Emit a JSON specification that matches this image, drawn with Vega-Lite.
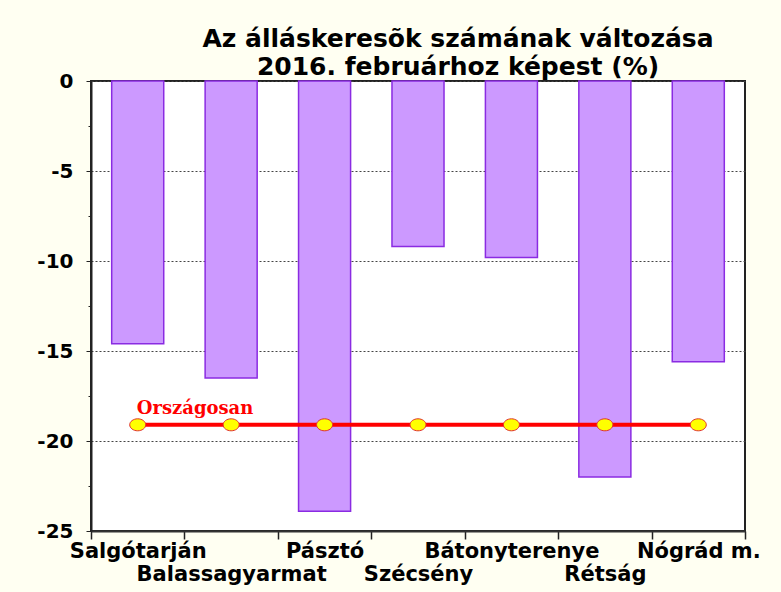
{
  "$schema": "https://vega.github.io/schema/vega-lite/v6.json",
  "width": 654,
  "height": 450,
  "autosize": {"type": "none"},
  "padding": {"left": 91, "top": 81, "right": 36, "bottom": 61},
  "background": "#FFFFF2",
  "config": {
    "view": {"fill": "white", "stroke": "#222222", "strokeWidth": 2},
    "font": "DejaVu Sans"
  },
  "title": {
    "text": ["Az álláskeresõk számának változása", "2016. februárhoz képest (%)"],
    "font": "DejaVu Sans",
    "fontSize": 25,
    "fontWeight": "bold",
    "color": "black",
    "anchor": "middle",
    "dx": 40,
    "offset": -9,
    "lineHeight": 28
  },
  "data": {
    "values": [
      {"cat": "Salgótarján", "value": -14.6, "avg": -19.1},
      {"cat": "Balassagyarmat", "value": -16.5, "avg": -19.1},
      {"cat": "Pásztó", "value": -23.9, "avg": -19.1},
      {"cat": "Szécsény", "value": -9.2, "avg": -19.1},
      {"cat": "Bátonyterenye", "value": -9.8, "avg": -19.1},
      {"cat": "Rétság", "value": -22.0, "avg": -19.1},
      {"cat": "Nógrád m.", "value": -15.6, "avg": -19.1}
    ]
  },
  "encoding": {
    "x": {
      "field": "cat",
      "type": "nominal",
      "sort": null,
      "scale": {"paddingInner": 0, "paddingOuter": 0},
      "axis": {
        "title": null,
        "labelAngle": 0,
        "labelFont": "DejaVu Sans",
        "labelFontSize": 21,
        "labelFontWeight": "bold",
        "labelColor": "black",
        "labelPadding": 1,
        "labelLineHeight": 23,
        "labelLimit": 400,
        "labelExpr": "indexof(['Balassagyarmat','Szécsény','Rétság'], datum.value) >= 0 ? ['', datum.value] : datum.value",
        "tickBand": "extent",
        "tickSize": 8,
        "tickColor": "#222222",
        "tickWidth": 1.5,
        "domainColor": "#333333",
        "domainWidth": 2,
        "grid": false,
        "labelOverlap": false
      }
    }
  },
  "layer": [
    {
      "mark": {"type": "bar", "fill": "#CC99FF", "stroke": "#8A2BE2", "strokeWidth": 1.5, "width": {"band": 0.557}},
      "encoding": {
        "y": {
          "field": "value",
          "type": "quantitative",
          "scale": {"domain": [-25, 0], "nice": false, "zero": false},
          "axis": {
            "title": null,
            "values": [-25, -22.5, -20, -17.5, -15, -12.5, -10, -7.5, -5, -2.5, 0],
            "labelExpr": "datum.value % 5 === 0 ? '' + datum.value : ''",
            "labelFont": "DejaVu Sans",
            "labelFontSize": 20,
            "labelFontWeight": "bold",
            "labelColor": "black",
            "labelPadding": 13,
            "tickSize": {"condition": {"test": "datum.value % 5 !== 0", "value": 3}, "value": 5},
            "tickColor": "#222222",
            "domainColor": "#222222",
            "domainWidth": 2,
            "grid": true,
            "gridDash": [2, 2],
            "gridColor": "#444444",
            "gridWidth": 1,
            "gridOpacity": {"condition": {"test": "datum.value % 5 !== 0", "value": 0}, "value": 1}
          }
        },
        "y2": {"datum": 0}
      }
    },
    {
      "mark": {"type": "line", "color": "#FF0000", "strokeWidth": 4},
      "encoding": {"y": {"field": "avg", "type": "quantitative"}}
    },
    {
      "mark": {
        "type": "point",
        "shape": "M-1,0A1,0.75,0,1,1,1,0A1,0.75,0,1,1,-1,0Z",
        "size": 256,
        "filled": true,
        "fill": "#FFFF00",
        "stroke": "#E03030",
        "strokeWidth": 1,
        "opacity": 1
      },
      "encoding": {"y": {"field": "avg", "type": "quantitative"}}
    },
    {
      "transform": [{"filter": "datum.cat === 'Salgótarján'"}],
      "mark": {
        "type": "text",
        "text": "Országosan",
        "font": "DejaVu Serif",
        "fontSize": 18,
        "fontWeight": "bold",
        "color": "#FF0000",
        "align": "left",
        "baseline": "alphabetic",
        "dx": -1,
        "dy": -11
      },
      "encoding": {"y": {"field": "avg", "type": "quantitative"}}
    }
  ]
}
